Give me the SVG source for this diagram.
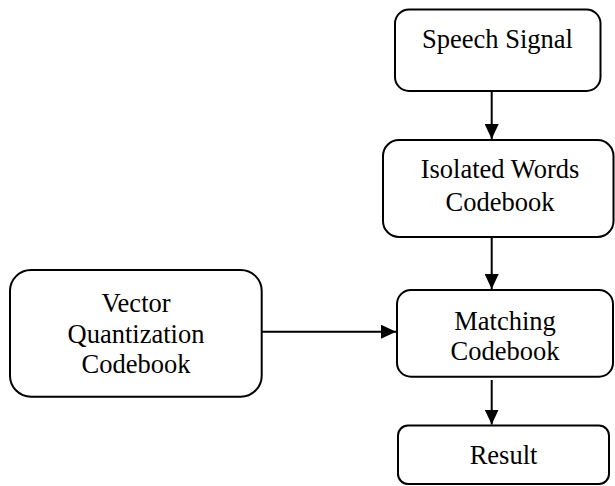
<svg xmlns="http://www.w3.org/2000/svg" width="615" height="486" viewBox="0 0 615 486">
<style>
.box{fill:#fff;stroke:#000;stroke-width:2}
.lbl{font-family:"Liberation Serif","Times New Roman",serif;font-size:26.5px;fill:#000;text-anchor:middle}
.con{stroke:#000;stroke-width:2;fill:none;marker-end:url(#ah)}
</style>
<defs>
<marker id="ah" markerUnits="userSpaceOnUse" markerWidth="15" markerHeight="14" refX="15" refY="7" orient="auto">
<path d="M0,0 L15,7 L0,14 z" fill="#000"/>
</marker>
</defs>
<rect width="615" height="486" fill="#fff"/>
<g id="speech">
<rect class="box" x="395" y="9.5" width="205.5" height="81.5" rx="14"/>
<text class="lbl" x="497.5" y="48.3">Speech Signal</text>
</g>
<g id="isolated">
<rect class="box" x="383" y="140" width="230.5" height="97" rx="16"/>
<text class="lbl" x="500" y="178.3">Isolated Words</text>
<text class="lbl" x="500" y="211">Codebook</text>
</g>
<g id="vector">
<rect class="box" x="10" y="270" width="251.7" height="126.7" rx="21"/>
<text class="lbl" x="136" y="311.7">Vector</text>
<text class="lbl" x="136" y="343">Quantization</text>
<text class="lbl" x="136" y="373">Codebook</text>
</g>
<g id="matching">
<rect class="box" x="397" y="290" width="216" height="86.7" rx="14"/>
<text class="lbl" x="505" y="330">Matching</text>
<text class="lbl" x="505" y="360">Codebook</text>
</g>
<g id="result">
<rect class="box" x="398" y="425.5" width="211" height="58.5" rx="10"/>
<text class="lbl" x="503.5" y="463.7">Result</text>
</g>
<g id="connectors">
<line class="con" x1="491.7" y1="91" x2="491.7" y2="139"/>
<line class="con" x1="491.7" y1="237" x2="491.7" y2="289"/>
<line class="con" x1="262" y1="331.7" x2="396" y2="331.7"/>
<line class="con" x1="491.7" y1="380" x2="491.7" y2="424.5"/>
</g>
</svg>
